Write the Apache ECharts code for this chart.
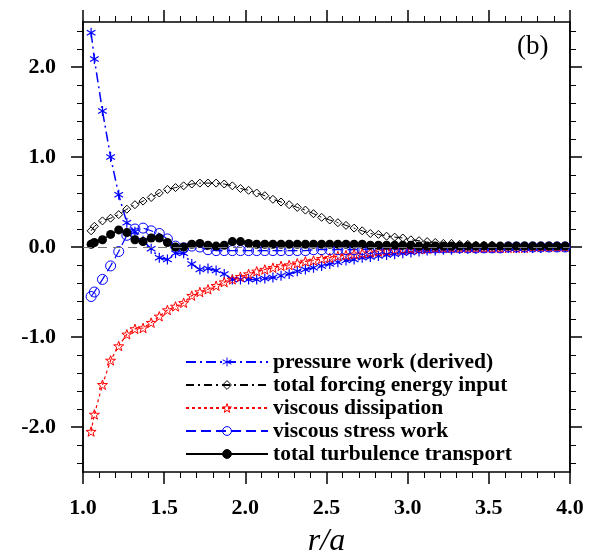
<!DOCTYPE html>
<html>
<head>
<meta charset="utf-8">
<script src="https://cdn.jsdelivr.net/npm/echarts@6/dist/echarts.min.js"></script>
<style>
html,body{margin:0;padding:0;background:#fff;}
#chart{width:596px;height:558px;}
</style>
</head>
<body>
<div id="chart"></div>
<script>
// radial positions r/a
var radius = [1.05, 1.07, 1.12, 1.17, 1.22, 1.27, 1.32, 1.37, 1.42, 1.47,
              1.52, 1.57, 1.62, 1.67, 1.72, 1.77, 1.82, 1.87, 1.92, 1.97,
              2.02, 2.07, 2.12, 2.17, 2.22, 2.27, 2.32, 2.37, 2.42, 2.47,
              2.52, 2.57, 2.62, 2.67, 2.72, 2.77, 2.82, 2.87, 2.92, 2.97,
              3.02, 3.07, 3.12, 3.17, 3.22, 3.27, 3.32, 3.37, 3.42, 3.47,
              3.52, 3.57, 3.62, 3.67, 3.72, 3.77, 3.82, 3.87, 3.92, 3.97];

var pressureWork = [2.38, 2.09, 1.51, 1.00, 0.58, 0.27, 0.17, 0.07, -0.02, -0.12,
                    -0.14, -0.07, -0.07, -0.19, -0.25, -0.24, -0.26, -0.30, -0.36, -0.36,
                    -0.36, -0.36, -0.35, -0.34, -0.32, -0.30, -0.27, -0.25, -0.23, -0.21,
                    -0.19, -0.17, -0.15, -0.14, -0.12, -0.11, -0.10, -0.09, -0.08, -0.07,
                    -0.06, -0.05, -0.04, -0.04, -0.03, -0.03, -0.02, -0.02, -0.02, -0.01,
                    -0.01, -0.01, -0.01, -0.01, -0.01, -0.01, -0.01, 0.00, 0.00, 0.00];

var forcingInput = [0.18, 0.23, 0.29, 0.32, 0.36, 0.42, 0.47, 0.51, 0.55, 0.60,
                    0.64, 0.66, 0.68, 0.70, 0.71, 0.71, 0.71, 0.70, 0.68, 0.65,
                    0.63, 0.60, 0.57, 0.53, 0.50, 0.47, 0.44, 0.41, 0.37, 0.33,
                    0.30, 0.27, 0.24, 0.21, 0.18, 0.15, 0.14, 0.12, 0.11, 0.10,
                    0.08, 0.07, 0.06, 0.05, 0.04, 0.04, 0.03, 0.03, 0.02, 0.02,
                    0.02, 0.01, 0.01, 0.01, 0.01, 0.01, 0.01, 0.01, 0.01, 0.01];

var viscousDiss = [-2.05, -1.86, -1.53, -1.26, -1.10, -0.97, -0.91, -0.90, -0.84, -0.77,
                   -0.70, -0.66, -0.62, -0.54, -0.50, -0.47, -0.43, -0.39, -0.36, -0.33,
                   -0.30, -0.27, -0.25, -0.23, -0.21, -0.20, -0.18, -0.16, -0.15, -0.13,
                   -0.12, -0.10, -0.09, -0.08, -0.07, -0.06, -0.05, -0.04, -0.03, -0.03,
                   -0.02, -0.02, -0.02, -0.01, -0.01, -0.01, -0.01, -0.01, -0.01, -0.01,
                   -0.01, -0.01, -0.01, -0.01, -0.01, 0.00, 0.00, 0.00, 0.00, 0.00];

var stressWork = [-0.55, -0.50, -0.36, -0.21, -0.05, 0.13, 0.20, 0.21, 0.18, 0.15,
                  0.09, 0.01, -0.01, 0.01, 0.00, -0.03, -0.04, -0.04, -0.04, -0.04,
                  -0.04, -0.04, -0.04, -0.04, -0.04, -0.04, -0.04, -0.04, -0.03, -0.03,
                  -0.03, -0.03, -0.03, -0.03, -0.03, -0.02, -0.02, -0.02, -0.02, -0.02,
                  -0.02, -0.01, -0.01, -0.01, -0.01, -0.01, -0.01, -0.01, -0.01, -0.01,
                  -0.01, -0.01, 0.00, 0.00, 0.00, 0.00, 0.00, 0.00, 0.00, 0.00];

var turbTransport = [0.03, 0.05, 0.08, 0.14, 0.19, 0.16, 0.08, 0.06, 0.10, 0.10,
                     0.05, 0.00, 0.00, 0.03, 0.04, 0.02, 0.01, 0.02, 0.06, 0.06,
                     0.04, 0.03, 0.03, 0.03, 0.03, 0.03, 0.03, 0.03, 0.03, 0.03,
                     0.03, 0.03, 0.03, 0.03, 0.03, 0.02, 0.02, 0.02, 0.02, 0.02,
                     0.02, 0.01, 0.01, 0.01, 0.01, 0.01, 0.01, 0.01, 0.01, 0.01,
                     0.01, 0.01, 0.01, 0.01, 0.01, 0.01, 0.01, 0.01, 0.01, 0.01];

var yMajor = [-2, -1, 0, 1, 2];
var yMinor = [-2.4, -2.2, -1.8, -1.6, -1.4, -1.2, -0.8, -0.6, -0.4, -0.2,
              0.2, 0.4, 0.6, 0.8, 1.2, 1.4, 1.6, 1.8, 2.2, 2.4];

var names = ['pressure work (derived)', 'total forcing energy input', 'viscous dissipation',
             'viscous stress work', 'total turbulence transport'];

var serif = '"Liberation Serif", "Times New Roman", serif';
var asterisk = 'path://M0,-5L0,5M-4.33,-2.5L4.33,2.5M-4.33,2.5L4.33,-2.5';
var star = 'path://M0,-10L2.35,-3.24L9.51,-3.09L3.8,1.24L5.88,8.09L0,4L-5.88,8.09L-3.8,1.24L-9.51,-3.09L-2.35,-3.24Z';
var clear = 'rgba(255,255,255,0)';

function pairs(ys) {
    return radius.map(function (r, i) { return [r, ys[i]]; });
}

var myChart = echarts.init(document.getElementById('chart'));

var frameLine = { show: true, onZero: false, lineStyle: { color: '#000', width: 1.5 } };

function xAx(pos, labels) {
    return {
        type: 'value', position: pos, min: 1, max: 4, interval: 0.5,
        axisLine: frameLine,
        axisTick: { show: true, inside: false, length: 12, lineStyle: { color: '#000', width: 1.5 } },
        minorTick: { show: true, splitNumber: 5, length: 6, lineStyle: { color: '#000', width: 1 } },
        splitLine: { show: false },
        axisLabel: {
            show: labels, margin: 25, color: '#000', fontFamily: serif, fontWeight: 'bold', fontSize: 22,
            formatter: function (v) { return v.toFixed(1); }
        },
        name: labels ? 'r/a' : '',
        nameLocation: 'middle', nameGap: 54,
        nameTextStyle: { fontFamily: serif, fontStyle: 'italic', fontSize: 32, color: '#000' }
    };
}

function yAx(pos, ticks, len, labels) {
    return {
        type: 'value', position: pos, min: -2.5, max: 2.5,
        axisLine: frameLine,
        axisTick: { show: true, inside: false, length: len, customValues: ticks,
                    lineStyle: { color: '#000', width: len > 8 ? 1.5 : 1 } },
        splitLine: { show: false },
        axisLabel: {
            show: labels, customValues: yMajor, margin: 27, color: '#000',
            fontFamily: serif, fontWeight: 'bold', fontSize: 22,
            formatter: function (v) { return v.toFixed(1); }
        }
    };
}

var option = {
    animation: false,
    backgroundColor: '#fff',
    grid: { left: 83, right: 26, top: 22, bottom: 86, outerBoundsMode: 'none', containLabel: false },
    xAxis: [xAx('bottom', true), xAx('top', false)],
    yAxis: [
        yAx('left', yMajor, 12, true),
        yAx('left', yMinor, 6, false),
        yAx('right', yMajor, 12, false),
        yAx('right', yMinor, 6, false)
    ],
    legend: {
        orient: 'vertical', left: 185, top: 351, padding: 0,
        itemWidth: 82, itemHeight: 11, itemGap: 1,
        selectedMode: false,
        itemStyle: { color: clear, borderWidth: 1 },
        textStyle: { fontFamily: serif, fontWeight: 'bold', fontSize: 21.5, color: '#000', lineHeight: 20 },
        data: [
            { name: names[0] },
            { name: names[1] },
            { name: names[2] },
            { name: names[3] },
            { name: names[4], itemStyle: { color: '#000' } }
        ]
    },
    graphic: [{
        type: 'text', left: 517, top: 33,
        style: { text: '(b)', fontFamily: serif, fontSize: 27, fill: '#000' }
    }],
    series: [
        {
            name: names[0], type: 'line', data: pairs(pressureWork),
            symbol: asterisk, symbolSize: 10, symbolKeepAspect: true,
            itemStyle: { color: clear, borderColor: '#0000ff', borderWidth: 1.2 },
            lineStyle: { color: '#0000ff', width: 1.5, type: [10, 4, 2, 4] },
            markLine: {
                silent: true, symbol: 'none', label: { show: false },
                lineStyle: { color: '#777', width: 1, type: [9, 6] },
                data: [{ yAxis: 0 }]
            }
        },
        {
            name: names[1], type: 'line', data: pairs(forcingInput),
            symbol: 'diamond', symbolSize: 8,
            itemStyle: { color: clear, borderColor: '#000', borderWidth: 1 },
            lineStyle: { color: '#000', width: 1, type: [8, 4, 2, 4] }
        },
        {
            name: names[2], type: 'line', data: pairs(viscousDiss),
            symbol: star, symbolSize: 10, symbolKeepAspect: true,
            itemStyle: { color: clear, borderColor: '#ff0000', borderWidth: 1 },
            lineStyle: { color: '#ff0000', width: 1.2, type: [3, 3] }
        },
        {
            name: names[3], type: 'line', data: pairs(stressWork),
            symbol: 'circle', symbolSize: 10,
            itemStyle: { color: clear, borderColor: '#0000ff', borderWidth: 1 },
            lineStyle: { color: '#0000ff', width: 1.2, type: [10, 5] }
        },
        {
            name: names[4], type: 'line', data: pairs(turbTransport),
            symbol: 'circle', symbolSize: 9,
            itemStyle: { color: '#000', borderColor: '#000', borderWidth: 0 },
            lineStyle: { color: '#000', width: 1.2, type: 'solid' }
        }
    ]
};

myChart.setOption(option);
</script>
</body>
</html>
